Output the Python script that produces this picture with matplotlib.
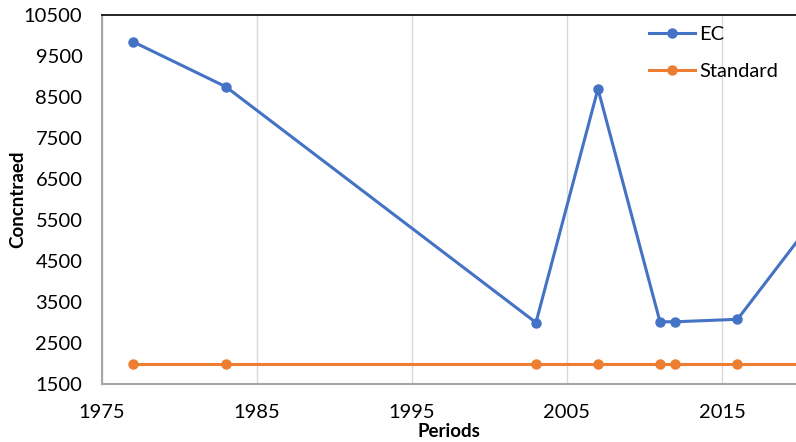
import matplotlib.pyplot as plt

years = [1977, 1983, 2003, 2007, 2011, 2012, 2016, 2021]
ec_values = [9850, 8750, 3000, 8700, 3020, 3020, 3080, 5550]
standard_values = [2000, 2000, 2000, 2000, 2000, 2000, 2000, 2000]
series_names = ["EC", "Standard"]
xticks = [1975, 1985, 1995, 2005, 2015]
yticks = list(range(1500, 10501, 1000))

plt.rcParams['font.family'] = ['Lato', 'DejaVu Sans']

fig = plt.figure(figsize=(7.96, 4.42), dpi=100)
ax = fig.add_axes([0.128, 0.131, 0.872, 0.835])

ax.plot(years, ec_values, color='#4472C4', lw=2.2, marker='o', ms=6.5, label=series_names[0])
ax.plot(years, standard_values, color='#ED7D31', lw=2.2, marker='o', ms=6.5, label=series_names[1])

ax.set_xlim(1975, 1975 + 694 / 15.5)
ax.set_ylim(1500, 10500)
ax.set_xticks(xticks)
ax.set_yticks(yticks)
ax.tick_params(length=0, labelsize=14.5)
ax.tick_params(axis='y', pad=14)
ax.tick_params(axis='x', pad=14)

ax.grid(axis='x', color='#d9d9d9', lw=1)
ax.set_axisbelow(True)

ax.spines['right'].set_visible(False)
ax.spines['top'].set_color('black')
ax.spines['top'].set_linewidth(1.2)
for s in ['left', 'bottom']:
    ax.spines[s].set_color('#a6a6a6')
    ax.spines[s].set_linewidth(1.5)

ax.set_xlabel("Periods", fontsize=13.5, fontweight='bold', labelpad=2)
ax.set_ylabel("Concntraed", fontsize=13.5, fontweight='bold', labelpad=-2)

ax.legend(loc='upper right', bbox_to_anchor=(1.0, 1.02), frameon=False, fontsize=14.5,
          handlelength=2.3, handletextpad=0.2, labelspacing=1.0)

fig.savefig("out.png", dpi=100)
